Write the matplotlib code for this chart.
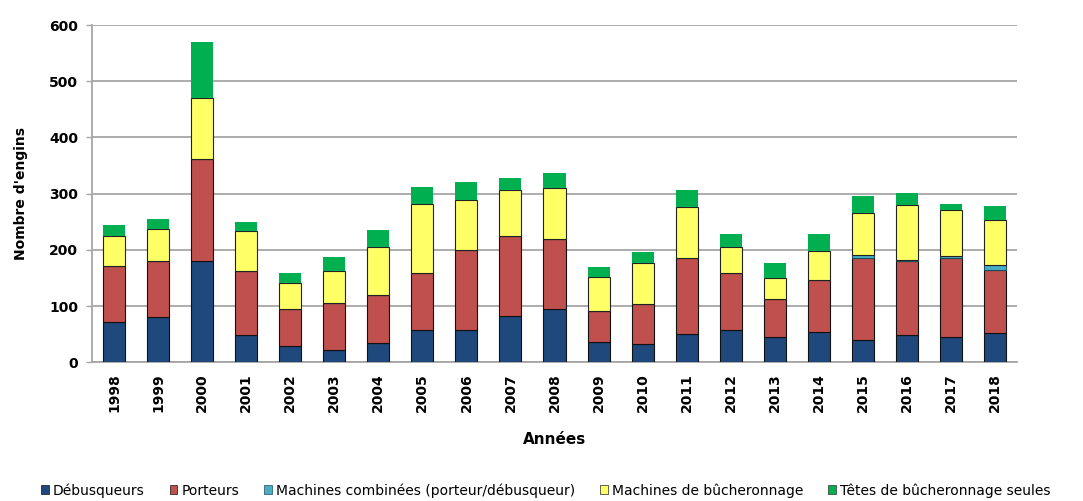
import matplotlib.pyplot as plt
from matplotlib.patches import Patch
import numpy as np

years = [str(y) for y in range(1998, 2019)]
debusqueurs = [72, 80, 181, 49, 28, 22, 34, 58, 57, 82, 95, 36, 33, 50, 57, 45, 54, 40, 48, 45, 52]
porteurs = [100, 101, 180, 114, 67, 84, 85, 100, 142, 142, 125, 55, 71, 136, 101, 68, 93, 146, 132, 141, 112]
combinees = [0, 0, 0, 0, 0, 0, 0, 0, 0, 0, 0, 0, 0, 0, 0, 0, 0, 4, 2, 3, 9]
bucheronnage = [53, 56, 110, 70, 46, 57, 86, 124, 89, 82, 90, 60, 72, 91, 47, 37, 51, 76, 98, 82, 80]
tetes = [20, 17, 98, 17, 18, 24, 30, 30, 32, 21, 27, 18, 20, 29, 24, 27, 31, 30, 22, 11, 25]

series = [
    ("Débusqueurs", debusqueurs, "#1f497d", "#111111"),
    ("Porteurs", porteurs, "#c0504d", "#111111"),
    ("Machines combinées (porteur/débusqueur)", combinees, "#4bacc6", "#1b4f5e"),
    ("Machines de bûcheronnage", bucheronnage, "#ffff66", "#222222"),
    ("Têtes de bûcheronnage seules", tetes, "#00b050", "none"),
]

fig = plt.figure(figsize=(10.83, 5.01), dpi=100)
ax = fig.add_axes([0.085, 0.277, 0.854, 0.673])

x = np.arange(len(years))
bottom = np.zeros(len(years))
handles = []
for name, vals, fc, ec in series:
    vals = np.array(vals, dtype=float)
    ax.bar(x, vals, 0.5, bottom=bottom, color=fc, edgecolor=ec, linewidth=0.8, zorder=3)
    bottom += vals
    handles.append(Patch(facecolor=fc, edgecolor="#333333" if ec == "none" else ec, linewidth=0.5))

ax.set_xlim(-0.5, len(years) - 0.5)
ax.set_ylim(0, 600)
ax.set_yticks(range(0, 601, 100))
ax.yaxis.grid(True, color="#a6a6a6", lw=1.3, zorder=0)
ax.set_xticks(x)
ax.set_xticklabels(years, rotation=90, fontsize=10, fontweight="bold")
for lbl in ax.get_yticklabels():
    lbl.set_fontsize(10)
    lbl.set_fontweight("bold")
ax.tick_params(axis="x", length=0, pad=8)
ax.tick_params(axis="y", length=4, width=1, color="#a6a6a6", pad=6)

for s in ["top", "right"]:
    ax.spines[s].set_visible(False)
ax.spines["left"].set_color("#a6a6a6")
ax.spines["bottom"].set_color("#a6a6a6")
ax.spines["left"].set_linewidth(1.3)
ax.spines["bottom"].set_linewidth(1.3)

ax.set_ylabel("Nombre d'engins", fontsize=10, fontweight="bold", labelpad=15)
ax.set_xlabel("Années", fontsize=11, fontweight="bold", labelpad=14)

fig.legend(handles, [s[0] for s in series], loc="lower center", bbox_to_anchor=(0.504, -0.018),
           ncol=5, frameon=False, fontsize=10, handlelength=0.55, handleheight=0.55,
           handletextpad=0.3, columnspacing=1.8)

fig.savefig("out.png", dpi=100)
